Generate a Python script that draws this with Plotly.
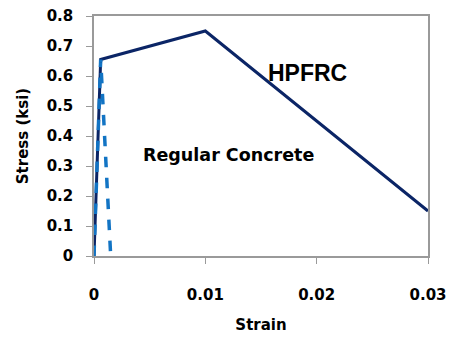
import plotly.graph_objects as go

hpfrc_strain = [0, 0.0006, 0.01, 0.03]
hpfrc_stress = [0, 0.655, 0.75, 0.15]
reg_strain = [0, 0.0006, 0.0015]
reg_stress = [0, 0.655, 0]

x_ticks = [0, 0.01, 0.02, 0.03]
x_labels = ["0", "0.01", "0.02", "0.03"]
y_ticks = [0, 0.1, 0.2, 0.3, 0.4, 0.5, 0.6, 0.7, 0.8]
y_labels = ["0", "0.1", "0.2", "0.3", "0.4", "0.5", "0.6", "0.7", "0.8"]

FONT = "DejaVu Sans"

fig = go.Figure()
fig.add_trace(go.Scatter(x=hpfrc_strain, y=hpfrc_stress, mode="lines",
                         line=dict(color="#0B2566", width=3), showlegend=False))
fig.add_trace(go.Scatter(x=reg_strain, y=reg_stress, mode="lines",
                         line=dict(color="#1274C4", width=3.5, dash="dash"), showlegend=False))

fig.add_annotation(x=0.0192, y=0.61, text="<b>HPFRC</b>", showarrow=False,
                   font=dict(family="Liberation Sans", size=23, color="black"))
fig.add_annotation(x=0.0121, y=0.337, text="<b>Regular Concrete</b>", showarrow=False,
                   font=dict(family=FONT, size=17.5, color="black"))

fig.update_layout(
    width=451, height=339,
    margin=dict(l=94, r=23, t=16, b=83),
    plot_bgcolor="white", paper_bgcolor="white",
    font=dict(family=FONT, size=15, color="black"),
)
fig.update_xaxes(range=[0, 0.03], tickvals=x_ticks, ticktext=[f"<b>{t}</b>" for t in x_labels],
                 showgrid=False, zeroline=False, showline=True, linecolor="#9a9a9a", linewidth=1.5,
                 mirror=True, ticks="outside", ticklen=6, tickcolor="#9a9a9a",
                 ticklabelstandoff=18, automargin=False,
                 title=dict(text="<b>Strain</b>", font=dict(family=FONT, size=15), standoff=17))
fig.update_yaxes(range=[0, 0.8], tickvals=y_ticks, ticktext=[f"<b>{t}</b>" for t in y_labels],
                 showgrid=False, zeroline=False, showline=True, linecolor="#9a9a9a", linewidth=1.5,
                 mirror=True, ticks="outside", ticklen=6, tickcolor="#9a9a9a", automargin=False,
                 ticklabelstandoff=10,
                 title=dict(text="<b>Stress (ksi)</b>", font=dict(family=FONT, size=15), standoff=14))

fig.write_html("out.html")
